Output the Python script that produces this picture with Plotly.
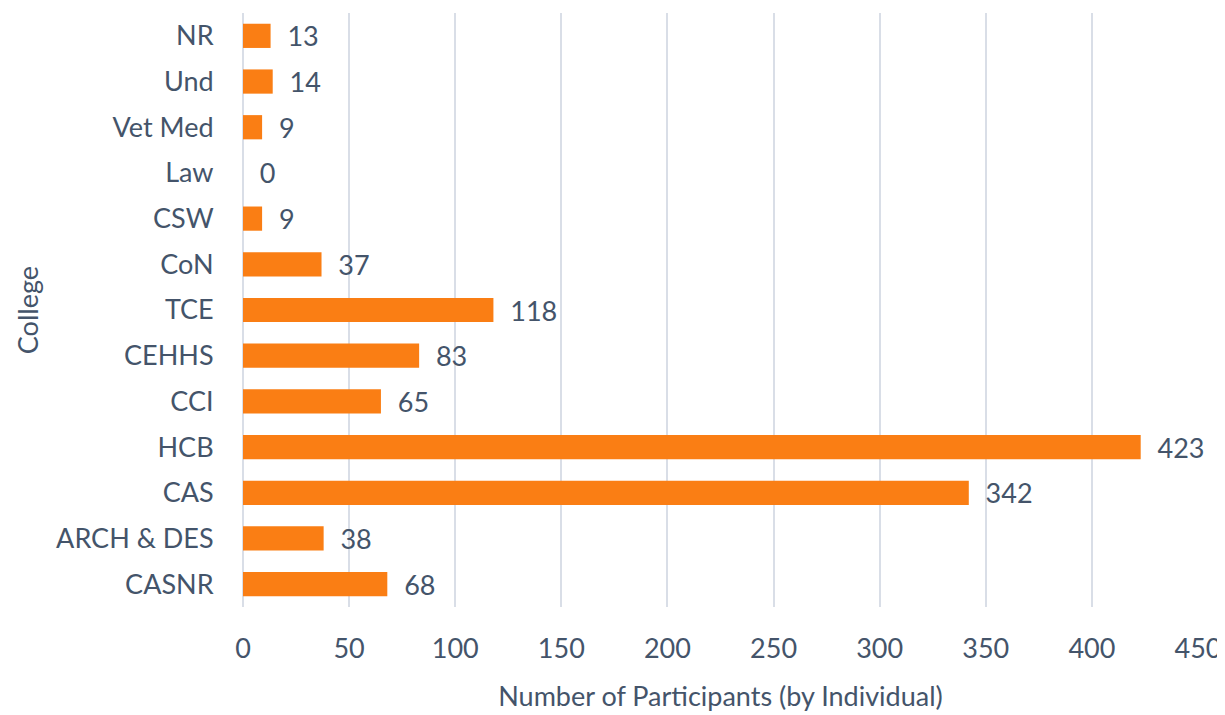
import plotly.graph_objects as go

# Colleges listed bottom to top, as drawn
colleges = ["CASNR", "ARCH & DES", "CAS", "HCB", "CCI", "CEHHS", "TCE",
            "CoN", "CSW", "Law", "Vet Med", "Und", "NR"]
participants = [68, 38, 342, 423, 65, 83, 118, 37, 9, 0, 9, 14, 13]
x_ticks = [0, 50, 100, 150, 200, 250, 300, 350, 400, 450]

TEXT = "#44546A"
GRID = "#D9DEE7"
FONT = "Lato, 'Open Sans', sans-serif"
FS = 27

fig = go.Figure()
fig.add_trace(go.Bar(
    x=participants,
    y=colleges,
    orientation="h",
    marker=dict(color="#FA7E14", line=dict(width=0)),
    text=participants,
    texttemplate="\u00a0\u00a0%{x}",
    textposition="outside",
    constraintext="none",
    textfont=dict(color=TEXT, size=FS, family=FONT),
    cliponaxis=False,
    hovertemplate="<b>%{y}</b>: %{x}<extra></extra>",
))

# page adds ~8px body margin, so the figure is shrunk to fit the window
fig.update_layout(
    width=1217, height=707,
    paper_bgcolor="white",
    plot_bgcolor="white",
    font=dict(color=TEXT, family=FONT, size=FS),
    margin=dict(l=235, r=27, t=5, b=108),
    bargap=0.47,
    showlegend=False,
)
fig.update_xaxes(
    range=[0, 450],
    tickvals=x_ticks,
    automargin=False,
    showgrid=True, gridcolor=GRID, gridwidth=2,
    zeroline=True, zerolinecolor=GRID, zerolinewidth=2,
    showline=False,
    tickfont=dict(size=FS, color=TEXT),
    ticks="outside", ticklen=18, tickcolor="rgba(0,0,0,0)",
    title=dict(text="Number of Participants (by Individual)",
               font=dict(size=FS, color=TEXT), standoff=23),
)
fig.update_yaxes(
    automargin=False,
    showgrid=False, showline=False, zeroline=False,
    tickfont=dict(size=FS, color=TEXT),
    ticks="outside", ticklen=23, tickcolor="rgba(0,0,0,0)",
)

# y-axis title placed by hand, further left than plotly's standoff allows
fig.add_annotation(
    text="College", textangle=-90,
    xref="paper", yref="paper", x=-0.226, y=0.5,
    xanchor="center", yanchor="middle", showarrow=False,
    font=dict(size=FS, color=TEXT, family=FONT),
)

fig.write_html("out.html")
